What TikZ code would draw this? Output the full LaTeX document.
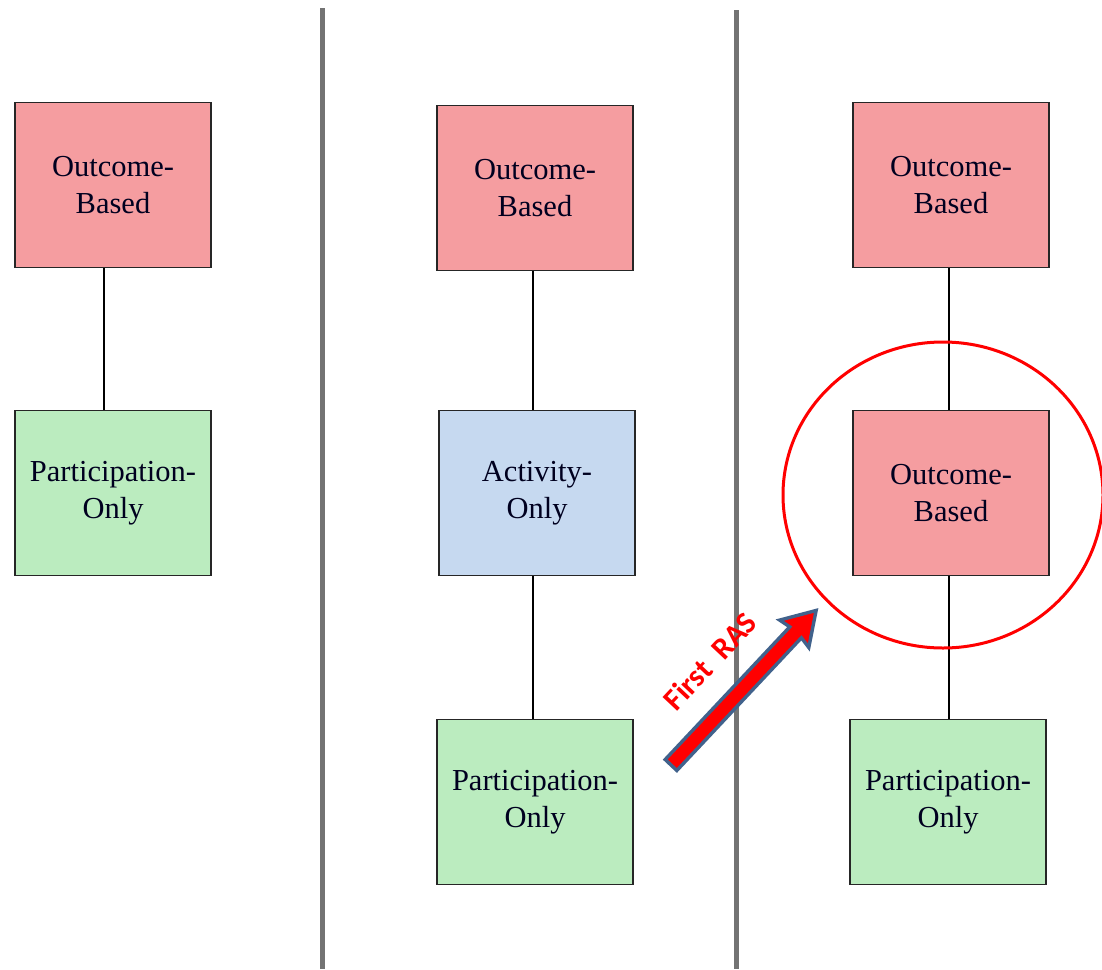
\documentclass[tikz,border=0pt]{standalone}
\usepackage{fontspec}
\usetikzlibrary{shapes.geometric}
\setmainfont{Liberation Serif}
\newfontfamily\labelfont{Carlito}
\begin{document}
\begin{tikzpicture}[x=1pt,y=-1pt,
  box/.style={draw=black!85, line width=1.6pt, minimum width=196pt, minimum height=165pt,
    inner sep=0pt, align=center, font=\fontsize{30.5}{37}\selectfont, text=black!80!blue!60!black},
  outcome/.style={box, fill=outcomepink},
  activity/.style={box, fill=activityblue},
  particip/.style={box, fill=participgreen},
  link/.style={draw=black, line width=1.2pt},
  divider/.style={draw=gray!90!black, line width=5pt}]
\definecolor{outcomepink}{RGB}{245,157,160}
\definecolor{activityblue}{RGB}{198,217,240}
\definecolor{participgreen}{RGB}{187,236,191}
\definecolor{arrowedge}{RGB}{65,98,140}
\useasboundingbox (0,0) rectangle (1102,969);

% column separators
\coordinate (s1top) at (322,8);  \coordinate (s1bot) at (322,969);
\coordinate (s2top) at (736,10); \coordinate (s2bot) at (736,969);
\draw[divider] (s1top) -- (s1bot);
\draw[divider] (s2top) -- (s2bot);

% left column
\node[outcome]  (lo) at (113,185) {Outcome-\\Based};
\node[particip] (lp) at (113,493) {Participation-\\Only};
\draw[link] (lo.south -| 104,0) -- (lp.north -| 104,0);

% middle column
\node[outcome]  (mo) at (535,188) {Outcome-\\Based};
\node[activity] (ma) at (537,493) {Activity-\\Only};
\node[particip] (mp) at (535,802) {Participation-\\Only};
\draw[link] (mo.south -| 533,0) -- (ma.north -| 533,0);
\draw[link] (ma.south -| 533,0) -- (mp.north -| 533,0);

% right column
\node[outcome]  (ro)  at (951,185) {Outcome-\\Based};
\node[outcome]  (ro2) at (951,493) {Outcome-\\Based};
\node[particip] (rp)  at (948,802) {Participation-\\Only};
\draw[link] (ro.south -| 949,0) -- (ro2.north -| 949,0);
\draw[link] (ro2.south -| 949,0) -- (rp.north -| 949,0);

% highlight ring
\node[draw=red, line width=3pt, ellipse, minimum width=320pt, minimum height=306pt] (ring) at (943,495) {};

% block arrow
\begin{scope}[shift={(671,765)}, rotate=46.8]
  \draw[fill=red, draw=arrowedge, line width=3.4pt, line join=miter]
    (0,-8) -- (182,-8) -- (180,-20) -- (212,0) -- (180,20) -- (182,8) -- (0,8) -- cycle;
\end{scope}
\node[text=red, font=\labelfont\bfseries\fontsize{31}{34}\selectfont, rotate=46.8] (ras) at (710,661) {First\ \ RAS};
\end{tikzpicture}
\end{document}
